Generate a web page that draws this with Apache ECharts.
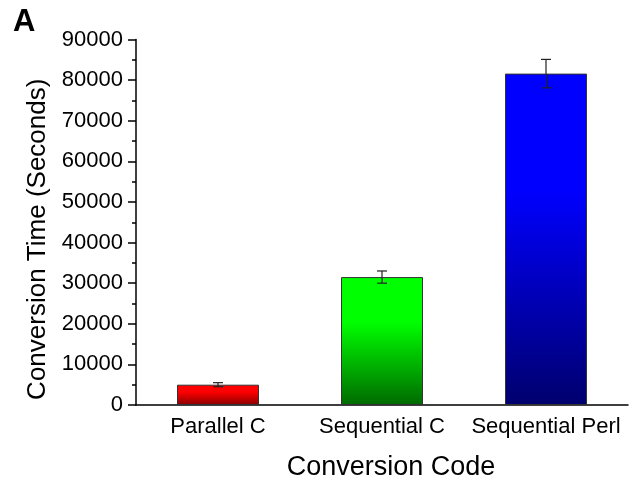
<!DOCTYPE html>
<html>
<head>
<meta charset="utf-8">
<script src="https://cdn.jsdelivr.net/npm/echarts@6/dist/echarts.min.js"></script>
<style>html,body{margin:0;padding:0;background:#fff;}#c{width:629px;height:480px;}</style>
</head>
<body>
<div id="c"></div>
<script>
const categories = ['Parallel C', 'Sequential C', 'Sequential Perl'];
const values = [5000, 31500, 81600];
const errors = [500, 1500, 3500];
const topColors = ['#ff0000', '#00ff00', '#0000ff'];
const bottomColors = ['#8a0000', '#006a00', '#00006e'];

const chart = echarts.init(document.getElementById('c'));
const font = 'Liberation Sans, Arial, Helvetica, sans-serif';

const barData = values.map((v, i) => ({
  value: v,
  itemStyle: {
    color: new echarts.graphic.LinearGradient(0, 0, 0, 1, [
      {offset: 0, color: topColors[i]},
      {offset: 0.35, color: topColors[i]},
      {offset: 1, color: bottomColors[i]}
    ])
  }
}));
const errData = values.map((v, i) => [i, v - errors[i], v + errors[i]]);

chart.setOption({
  animation: false,
  backgroundColor: '#fff',
  title: {
    text: 'A', left: 13, top: 7, padding: 0,
    textStyle: {fontFamily: font, fontWeight: 'bold', fontSize: 31, color: '#000'}
  },
  grid: {left: 136, right: 1, top: 39.5, bottom: 75, containLabel: false, outerBoundsMode: 'none'},
  xAxis: [{
    type: 'category',
    data: categories,
    name: 'Conversion Code',
    nameLocation: 'middle',
    nameGap: 49,
    nameTextStyle: {fontFamily: font, fontSize: 27, color: '#000', padding: [0, 0, 0, 18]},
    axisLine: {lineStyle: {color: '#000', width: 1.5}},
    axisTick: {alignWithLabel: true, length: 6, lineStyle: {color: '#000', width: 1.5}},
    axisLabel: {interval: 0, fontFamily: font, fontSize: 22, color: '#000', margin: 11}
  }, {
    type: 'category',
    data: categories,
    position: 'bottom',
    axisLine: {show: false},
    axisTick: {alignWithLabel: false, length: 6, lineStyle: {color: '#000', width: 1.5}},
    axisLabel: {show: false}
  }],
  yAxis: {
    type: 'value',
    min: 0, max: 90000, interval: 10000,
    name: 'Conversion Time (Seconds)',
    nameLocation: 'middle',
    nameGap: 82,
    nameTextStyle: {fontFamily: font, fontSize: 26, color: '#000', padding: [0, 34, 0, 0]},
    axisLine: {show: true, lineStyle: {color: '#000', width: 1.5}},
    axisTick: {show: true, length: 8, lineStyle: {color: '#000', width: 1.5}},
    minorTick: {show: true, splitNumber: 2, length: 4, lineStyle: {color: '#000', width: 1.5}},
    splitLine: {show: false},
    axisLabel: {fontFamily: font, fontSize: 22, color: '#000', margin: 13, formatter: v => String(v)}
  },
  series: [{
    type: 'bar',
    data: barData,
    barWidth: '50%',
    itemStyle: {borderColor: '#333', borderWidth: 1}
  }, {
    type: 'custom',
    data: errData,
    z: 10,
    renderItem: function (params, api) {
      const x = api.value(0);
      const lo = api.coord([x, api.value(1)]);
      const hi = api.coord([x, api.value(2)]);
      const w = 5;
      const st = {stroke: '#222', lineWidth: 1.2, fill: null};
      return {
        type: 'group',
        children: [
          {type: 'line', shape: {x1: hi[0], y1: hi[1], x2: lo[0], y2: lo[1]}, style: st},
          {type: 'line', shape: {x1: hi[0] - w, y1: hi[1], x2: hi[0] + w, y2: hi[1]}, style: st},
          {type: 'line', shape: {x1: lo[0] - w, y1: lo[1], x2: lo[0] + w, y2: lo[1]}, style: st}
        ]
      };
    }
  }]
});
</script>
</body>
</html>
